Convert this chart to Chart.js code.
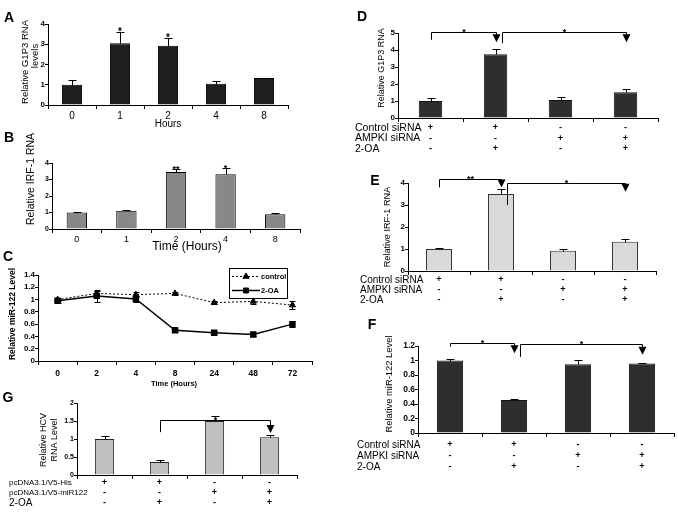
<!DOCTYPE html>
<html>
<head>
<meta charset="utf-8">
<script src="https://cdn.jsdelivr.net/npm/chart.js@4.4.1/dist/chart.umd.min.js"></script>
<style>
  html, body { margin: 0; padding: 0; background: #fff; }
  #page { position: relative; width: 678px; height: 512px; overflow: hidden; background: #fff; }
  #page canvas { position: absolute; left: 0; top: 0; }
</style>
</head>
<body>
<div id="page">
  <canvas id="panelA" width="678" height="512"></canvas>
  <canvas id="panelB" width="678" height="512"></canvas>
  <canvas id="panelC" width="678" height="512"></canvas>
  <canvas id="panelG" width="678" height="512"></canvas>
  <canvas id="panelD" width="678" height="512"></canvas>
  <canvas id="panelE" width="678" height="512"></canvas>
  <canvas id="panelF" width="678" height="512"></canvas>
</div>
<script>
// A: G1P3 RNA after 2-OA, by hour
const hoursA = ['0', '1', '2', '4', '8']
const g1p3Hours = [1.0, 3.05, 2.93, 1.05, 1.33]
const g1p3HoursErr = [0.25, 0.57, 0.36, 0.15, 0]
const g1p3HoursSig = ['', '*', '*', '', '']

// B: IRF-1 RNA after 2-OA, by hour
const hoursB = ['0', '1', '2', '4', '8']
const irf1Hours = [1.0, 1.1, 3.46, 3.32, 0.9]
const irf1HoursErr = [0.02, 0.06, 0.2, 0.4, 0.04]
const irf1HoursSig = ['', '', '**', '*', '']

// C: miR-122 time course
const hoursC = ['0', '2', '4', '8', '24', '48', '72']
const mirControl = [1.0, 1.1, 1.08, 1.1, 0.95, 0.97, 0.91]
const mirControlErr = [0.02, 0.04, 0.04, 0.02, 0.03, 0.05, 0.07]
const mir2OA = [0.98, 1.06, 1.01, 0.5, 0.46, 0.43, 0.6]
const mir2OAErr = [0.03, 0.1, 0.05, 0.02, 0.03, 0.02, 0.05]

// D, E, F share the siRNA treatment table
const sirnaGroups = ['Control', 'Control + 2-OA', 'AMPKI', 'AMPKI + 2-OA']
const sirnaRows = ['Control siRNA', 'AMPKI siRNA', '2-OA']
const sirnaSigns = [['+', '+', '-', '-'], ['-', '-', '+', '+'], ['-', '+', '-', '+']]

const g1p3Sirna = [1.0, 3.75, 1.06, 1.52]
const g1p3SirnaErr = [0.2, 0.3, 0.19, 0.17]
const g1p3Brackets = [
  { from: 0, to: 1, label: '*', level: 5.05, left: 4.6, tip: 4.45 },
  { from: 1, to: 3, label: '*', level: 5.05, left: 4.4, tip: 4.45 }
]

const irf1Sirna = [1.0, 3.5, 0.92, 1.33]
const irf1SirnaErr = [0.03, 0.25, 0.06, 0.12]
const irf1Brackets = [
  { from: 0, to: 1, label: '**', level: 4.18, left: 3.8, tip: 3.8 },
  { from: 1, to: 3, label: '*', level: 4.0, left: 3.0, tip: 3.6 }
]

const mirSirna = [1.0, 0.455, 0.95, 0.96]
const mirSirnaErr = [0.02, 0.02, 0.055, 0.01]
const mirBrackets = [
  { from: 0, to: 1, label: '*', level: 1.24, left: 1.19, tip: 1.1 },
  { from: 1, to: 3, label: '*', level: 1.23, left: 1.05, tip: 1.08 }
]

// G: HCV RNA with miR-122 rescue
const hcvGroups = ['His', 'His + 2-OA', 'miR122', 'miR122 + 2-OA']
const hcvRows = ['pcDNA3.1/V5-His', 'pcDNA3.1/V5-miR122', '2-OA']
const hcvSigns = [['+', '+', '-', '-'], ['-', '-', '+', '+'], ['-', '+', '-', '+']]
const hcvLevel = [1.0, 0.36, 1.5, 1.05]
const hcvLevelErr = [0.08, 0.05, 0.14, 0.07]
const hcvBrackets = [
  { from: 1, to: 3, label: '*', level: 1.53, left: 1.19, tip: 1.17 }
]


const sansFont = "'Liberation Sans', Arial, sans-serif"

function font(size, weight, family) {
  return (weight || 'normal') + ' ' + size + 'px ' + (family || sansFont)
}

const decorations = {}

function line(ctx, x1, y1, x2, y2) {
  ctx.beginPath()
  ctx.moveTo(x1, y1)
  ctx.lineTo(x2, y2)
  ctx.stroke()
}

function text(ctx, str, x, y, f, align, baseline, rotate) {
  ctx.save()
  ctx.font = f
  ctx.textAlign = align || 'center'
  ctx.textBaseline = baseline || 'middle'
  ctx.translate(x, y)
  if (rotate) ctx.rotate(-Math.PI / 2)
  ctx.fillText(str, 0, 0)
  ctx.restore()
}

// excel style tick text: 1 rather than 1.0
function tickText(value) {
  return String(Number(value.toFixed(2)))
}

// error bars, stars, brackets, tables and labels that Chart.js has no option for
const decor = {
  id: 'decor',
  afterDatasetsDraw(chart) {
    const d = decorations[chart.canvas.id]
    if (!d) return
    const ctx = chart.ctx
    const xs = chart.scales.x
    const ys = chart.scales.y
    ctx.save()
    ctx.strokeStyle = '#000'
    ctx.fillStyle = '#000'
    ctx.lineWidth = 1

    const errs = d.errors || []
    errs.forEach(eb => {
      const values = chart.data.datasets[eb.dataset].data
      chart.getDatasetMeta(eb.dataset).data.forEach((el, i) => {
        const e = eb.err[i]
        if (!e) return
        const px = Math.round(el.x) + 0.5
        const top = Math.round(ys.getPixelForValue(values[i] + e)) + 0.5
        const bottom = Math.round(ys.getPixelForValue(eb.both ? values[i] - e : values[i])) + 0.5
        line(ctx, px, bottom, px, top)
        line(ctx, px - eb.cap, top, px + eb.cap, top)
        if (eb.both) line(ctx, px - eb.cap, bottom, px + eb.cap, bottom)
      })
    })

    if (d.stars) {
      const values = chart.data.datasets[0].data
      d.stars.labels.forEach((lab, i) => {
        if (!lab) return
        const top = ys.getPixelForValue(values[i] + d.stars.err[i])
        text(ctx, lab, xs.getPixelForValue(i), top + 3, d.stars.font, 'center', 'alphabetic')
      })
    }

    const arrivals = {}
    const brackets = d.brackets || []
    brackets.forEach(b => {
      const shift = arrivals[b.from] ? 6 : 0
      const x1 = Math.round(xs.getPixelForValue(b.from)) + 0.5 + shift
      const x2 = Math.round(xs.getPixelForValue(b.to)) + 0.5
      const yl = Math.round(ys.getPixelForValue(b.level)) + 0.5
      const yLeft = ys.getPixelForValue(b.left)
      const yTip = ys.getPixelForValue(b.tip)
      line(ctx, x1, yLeft, x1, yl)
      line(ctx, x1, yl, x2, yl)
      line(ctx, x2, yl, x2, yTip - 6)
      ctx.beginPath()
      ctx.moveTo(x2 - 4, yTip - 8)
      ctx.lineTo(x2 + 4, yTip - 8)
      ctx.lineTo(x2, yTip)
      ctx.closePath()
      ctx.fill()
      text(ctx, b.label, (x1 + x2) / 2, yl + 2, d.bracketFont, 'center', 'alphabetic')
      arrivals[b.to] = true
    })

    if (d.rows) {
      const r = d.rows
      r.names.forEach((name, k) => {
        text(ctx, name, r.nameX, r.ys[k], r.nameFonts[k], 'left', 'middle')
        r.signs[k].forEach((sg, i) => {
          text(ctx, sg, xs.getPixelForValue(i), r.ys[k], r.signFont, 'center', 'middle')
        })
      })
    }

    if (d.legend) {
      const L = d.legend
      ctx.strokeRect(L.x + 0.5, L.y + 0.5, L.w, L.h)
      chart.data.datasets.forEach((ds, k) => {
        const yy = L.y + L.rowY[k] + 0.5
        ctx.save()
        ctx.lineWidth = ds.borderWidth
        ctx.setLineDash(ds.borderDash || [])
        line(ctx, L.x + 3, yy, L.x + 31, yy)
        ctx.restore()
        Chart.helpers.drawPoint(ctx, { pointStyle: ds.pointStyle, radius: ds.pointRadius, borderWidth: 1, rotation: 0 }, L.x + 17, yy)
        text(ctx, ds.label, L.x + 32, yy, L.font, 'left', 'middle')
      })
    }

    const texts = d.texts || []
    texts.forEach(t => text(ctx, t.str, t.x, t.y, t.font, t.align, 'middle', t.rotate))
    ctx.restore()
  }
}


function barSet(values, fill, border, width) {
  return {
    data: values,
    backgroundColor: fill,
    borderColor: border,
    borderWidth: 1,
    barPercentage: width,
    categoryPercentage: 1
  }
}

// box is the plot area in page pixels; every canvas covers the whole page
function makeChart(id, box, cfg) {
  const yAxisWidth = 30
  const xAxisHeight = 22
  return new Chart(document.getElementById(id), {
    type: cfg.type || 'bar',
    data: { labels: cfg.labels, datasets: cfg.datasets },
    plugins: [decor],
    options: {
      responsive: false,
      animation: false,
      events: [],
      layout: {
        padding: {
          left: box.left - yAxisWidth,
          right: 678 - box.right,
          top: box.top,
          bottom: 512 - box.bottom - xAxisHeight
        }
      },
      plugins: { legend: { display: false }, tooltip: { enabled: false } },
      scales: {
        x: {
          offset: true,
          afterFit: s => { s.height = xAxisHeight },
          border: { display: true, color: '#000', width: 1 },
          grid: { display: true, offset: true, drawOnChartArea: false, drawTicks: true, tickLength: 4, color: '#000' },
          ticks: {
            display: !!cfg.xFont,
            font: cfg.xFont,
            color: '#000',
            padding: cfg.xPad || 1,
            maxRotation: 0,
            autoSkip: false
          }
        },
        y: {
          min: 0,
          max: cfg.yMax,
          afterFit: s => { s.width = yAxisWidth },
          border: { display: true, color: '#000', width: 1 },
          grid: { display: true, drawOnChartArea: false, drawTicks: true, tickLength: 3, color: '#000' },
          ticks: { stepSize: cfg.yStep, font: cfg.yFont, color: '#000', padding: 0, autoSkip: false, callback: tickText }
        }
      }
    }
  })
}


// A
decorations.panelA = {
  texts: [
    { str: 'A', x: 9, y: 18, font: font(14, 'bold') },
    { str: 'Relative G1P3 RNA', x: 25, y: 62, font: font(9.5), rotate: true },
    { str: 'levels', x: 35.5, y: 56, font: font(9.5), rotate: true },
    { str: 'Hours', x: 168, y: 124, font: font(10) }
  ],
  errors: [{ dataset: 0, err: g1p3HoursErr, cap: 4 }],
  stars: { err: g1p3HoursErr, labels: g1p3HoursSig, font: font(10, 'bold') }
}
makeChart('panelA', { left: 48, right: 288, top: 24, bottom: 105 }, {
  labels: hoursA,
  datasets: [barSet(g1p3Hours, '#1f1f1f', '#000', 0.42)],
  yMax: 4, yStep: 1,
  yFont: { family: sansFont, size: 8, weight: 'bold' },
  xFont: { family: sansFont, size: 10 }, xPad: 1
})

// B
decorations.panelB = {
  texts: [
    { str: 'B', x: 9, y: 138, font: font(14, 'bold') },
    { str: 'Relative IRF-1 RNA', x: 31, y: 179, font: font(10.5), rotate: true },
    { str: 'Time (Hours)', x: 187, y: 247, font: font(12) }
  ],
  errors: [{ dataset: 0, err: irf1HoursErr, cap: 4 }],
  stars: { err: irf1HoursErr, labels: irf1HoursSig, font: font(9, 'bold') }
}
makeChart('panelB', { left: 52, right: 300, top: 163, bottom: 229 }, {
  labels: hoursB,
  datasets: [barSet(irf1Hours, '#888888', '#000', 0.41)],
  yMax: 4, yStep: 1,
  yFont: { family: sansFont, size: 7, weight: 'bold' },
  xFont: { family: sansFont, size: 9 }, xPad: 1
})

// C
decorations.panelC = {
  texts: [
    { str: 'C', x: 8, y: 257, font: font(14, 'bold') },
    { str: 'Relative miR-122 Level', x: 13, y: 314, font: font(8.5, 'bold'), rotate: true },
    { str: 'Time (Hours)', x: 174, y: 384, font: font(7.5, 'bold') }
  ],
  errors: [
    { dataset: 0, err: mirControlErr, cap: 3, both: true },
    { dataset: 1, err: mir2OAErr, cap: 3, both: true }
  ],
  legend: { x: 229, y: 268, w: 58, h: 30, rowY: [8, 22], font: font(7.5, 'bold') }
}
makeChart('panelC', { left: 38, right: 312, top: 275, bottom: 361 }, {
  type: 'line',
  labels: hoursC,
  datasets: [
    {
      label: 'control', data: mirControl,
      borderColor: '#000', borderWidth: 1, borderDash: [2, 2],
      pointStyle: 'triangle', pointRadius: 3.5,
      pointBackgroundColor: '#000', pointBorderColor: '#000',
      fill: false, tension: 0
    },
    {
      label: '2-OA', data: mir2OA,
      borderColor: '#000', borderWidth: 1.5,
      pointStyle: 'rect', pointRadius: 3.5,
      pointBackgroundColor: '#000', pointBorderColor: '#000',
      fill: false, tension: 0
    }
  ],
  yMax: 1.4, yStep: 0.2,
  yFont: { family: sansFont, size: 8, weight: 'bold' },
  xFont: { family: sansFont, size: 8.5, weight: 'bold' }, xPad: 3.5
})

// G
decorations.panelG = {
  texts: [
    { str: 'G', x: 8, y: 398, font: font(14, 'bold') },
    { str: 'Relative HCV', x: 44, y: 440, font: font(9), rotate: true },
    { str: 'RNA Level', x: 55, y: 440, font: font(9), rotate: true }
  ],
  errors: [{ dataset: 0, err: hcvLevelErr, cap: 4 }],
  brackets: hcvBrackets,
  bracketFont: font(9, 'bold'),
  rows: {
    names: hcvRows, signs: hcvSigns, nameX: 9, ys: [483, 493, 503],
    nameFonts: [font(8), font(8), font(10)], signFont: font(9, 'bold')
  }
}
makeChart('panelG', { left: 77, right: 297, top: 403, bottom: 475 }, {
  labels: hcvGroups,
  datasets: [barSet(hcvLevel, '#bfbfbf', '#222', 0.35)],
  yMax: 2, yStep: 0.5,
  yFont: { family: sansFont, size: 7, weight: 'bold' }
})

// D
decorations.panelD = {
  texts: [
    { str: 'D', x: 362, y: 17, font: font(14, 'bold') },
    { str: 'Relative G1P3 RNA', x: 382, y: 68, font: font(9), rotate: true }
  ],
  errors: [{ dataset: 0, err: g1p3SirnaErr, cap: 4 }],
  brackets: g1p3Brackets,
  bracketFont: font(9, 'bold'),
  rows: {
    names: sirnaRows, signs: sirnaSigns, nameX: 355, ys: [128, 138.5, 149],
    nameFonts: [font(10.5), font(10.5), font(10.5)], signFont: font(9, 'bold')
  }
}
makeChart('panelD', { left: 398, right: 658, top: 33, bottom: 118 }, {
  labels: sirnaGroups,
  datasets: [barSet(g1p3Sirna, '#2e2e2e', '#111', 0.36)],
  yMax: 5, yStep: 1,
  yFont: { family: sansFont, size: 8, weight: 'bold' }
})

// E
decorations.panelE = {
  texts: [
    { str: 'E', x: 375, y: 181, font: font(14, 'bold') },
    { str: 'Relative IRF-1 RNA', x: 387, y: 227, font: font(9.2), rotate: true }
  ],
  errors: [{ dataset: 0, err: irf1SirnaErr, cap: 4 }],
  brackets: irf1Brackets,
  bracketFont: font(9, 'bold'),
  rows: {
    names: sirnaRows, signs: sirnaSigns, nameX: 360, ys: [280, 290, 300],
    nameFonts: [font(10), font(10), font(10)], signFont: font(9, 'bold')
  }
}
makeChart('panelE', { left: 408, right: 656, top: 183, bottom: 271 }, {
  labels: sirnaGroups,
  datasets: [barSet(irf1Sirna, '#d9d9d9', '#333', 0.42)],
  yMax: 4, yStep: 1,
  yFont: { family: sansFont, size: 8, weight: 'bold' }
})

// F
decorations.panelF = {
  texts: [
    { str: 'F', x: 372, y: 325, font: font(14, 'bold') },
    { str: 'Relative miR-122 Level', x: 389, y: 384, font: font(9.4), rotate: true }
  ],
  errors: [{ dataset: 0, err: mirSirnaErr, cap: 4 }],
  brackets: mirBrackets,
  bracketFont: font(9, 'bold'),
  rows: {
    names: sirnaRows, signs: sirnaSigns, nameX: 357, ys: [445, 456, 467],
    nameFonts: [font(10), font(10), font(10)], signFont: font(9, 'bold')
  }
}
makeChart('panelF', { left: 418, right: 674, top: 346, bottom: 433 }, {
  labels: sirnaGroups,
  datasets: [barSet(mirSirna, '#2e2e2e', '#111', 0.41)],
  yMax: 1.2, yStep: 0.2,
  yFont: { family: sansFont, size: 8.5, weight: 'bold' }
})
</script>
</body>
</html>
